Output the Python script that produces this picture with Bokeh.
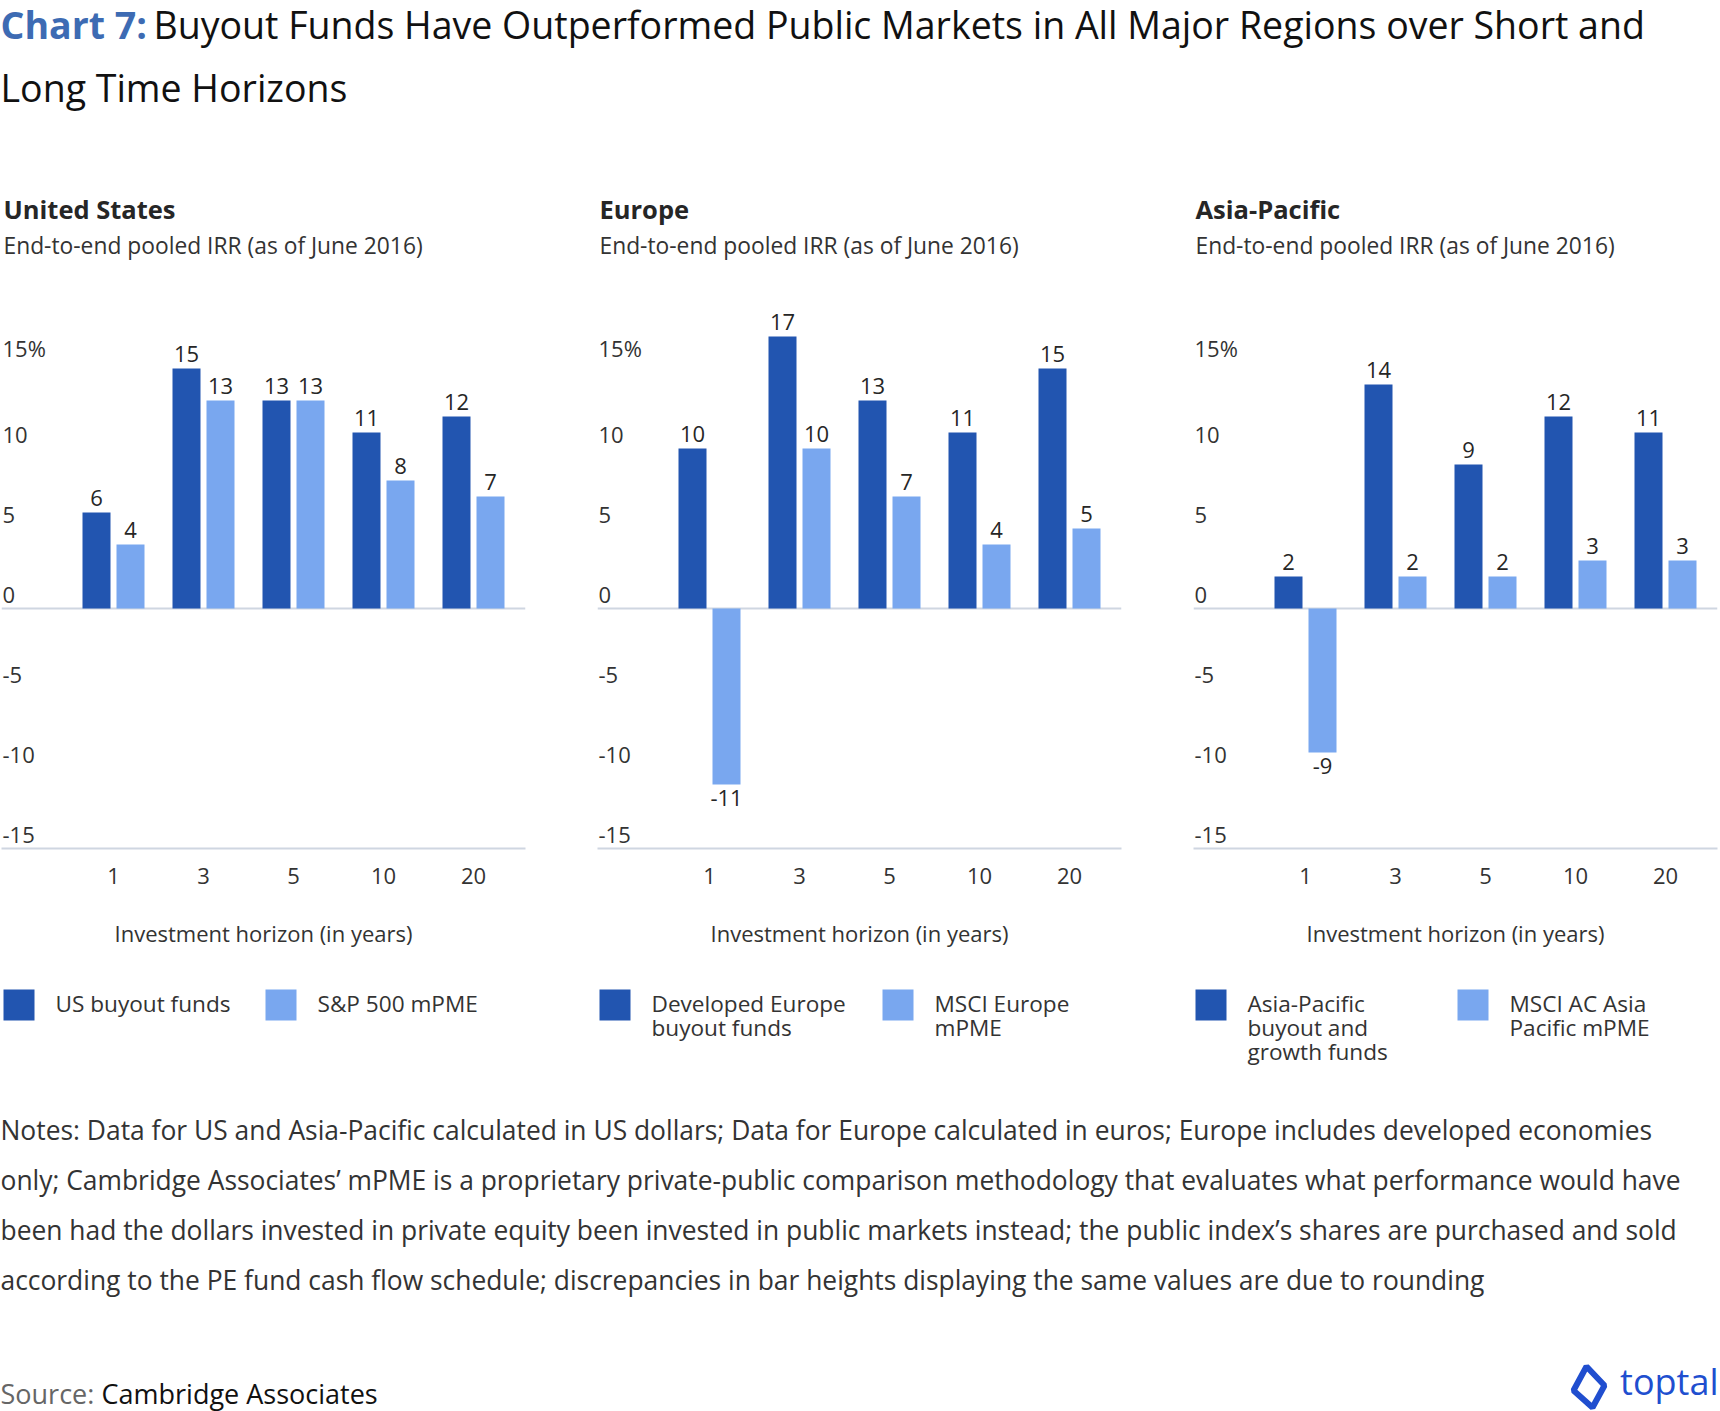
from bokeh.plotting import figure
from bokeh.layouts import column, row
from bokeh.models import Range1d, FixedTicker, Span, ColumnDataSource
from bokeh.core.properties import value
from bokeh.embed import file_html
from bokeh.resources import INLINE

FONT = "Open Sans"

# ---- data: end-to-end pooled IRR (%) by investment horizon ----
horizons = ["1", "3", "5", "10", "20"]
us_funds = [6, 15, 13, 11, 12]
us_pme = [4, 13, 13, 8, 7]
eu_funds = [10, 17, 13, 11, 15]
eu_pme = [-11, 10, 7, 4, 5]
ap_funds = [2, 14, 9, 12, 11]
ap_pme = [-9, 2, 2, 3, 3]

y_ticks = [15, 10, 5, 0, -5, -10, -15]
y_tick_labels = ["15%", "10", "5", "0", "-5", "-10", "-15"]

panel_titles = ["United States", "Europe", "Asia-Pacific"]
panel_subtitle = "End-to-end pooled IRR (as of June 2016)"
legend_labels = [
    (["US buyout funds"], ["S&P 500 mPME"]),
    (["Developed Europe", "buyout funds"], ["MSCI Europe", "mPME"]),
    (["Asia-Pacific", "buyout and", "growth funds"], ["MSCI AC Asia", "Pacific mPME"]),
]
notes_lines = [
    "Notes: Data for US and Asia-Pacific calculated in US dollars; Data for Europe calculated in euros; Europe includes developed economies",
    "only; Cambridge Associates\u2019 mPME is a proprietary private-public comparison methodology that evaluates what performance would have",
    "been had the dollars invested in private equity been invested in public markets instead; the public index\u2019s shares are purchased and sold",
    "according to the PE fund cash flow schedule; discrepancies in bar heights displaying the same values are due to rounding",
]

DARK = "#2255B0"
LIGHT = "#79A7EF"
RULE = "#CFD6E1"
INK = "#262626"
BODY = "#333333"

PANEL_X = [0, 596, 1192]
FRAME_W = 524
FRAME_H = 556
GROUP_PX = 90.0
FIRST_GROUP_PX = 112.0
BAR_W = 28.0 / GROUP_PX
DODGE = 17.0 / GROUP_PX


def blank(width, height, y_top, y_bottom):
    p = figure(width=width, height=height, x_range=Range1d(0, width),
               y_range=Range1d(y_bottom, y_top), toolbar_location=None,
               output_backend="svg", x_axis_location=None, y_axis_location=None,
               min_border=0, outline_line_color=None)
    p.grid.visible = False
    p.background_fill_color = "white"
    p.border_fill_color = "white"
    return p


def panel(funds, pme, right_border):
    x0 = -FIRST_GROUP_PX / GROUP_PX
    x1 = x0 + FRAME_W / GROUP_PX
    p = figure(frame_width=FRAME_W, frame_height=FRAME_H,
               x_range=Range1d(x0, x1), y_range=Range1d(-15, -15 + FRAME_H / 16.0),
               toolbar_location=None, output_backend="svg", y_axis_location=None,
               min_border_left=1, min_border_right=right_border,
               min_border_top=0, min_border_bottom=112,
               outline_line_color=None)
    p.grid.visible = False
    p.background_fill_color = "white"
    p.border_fill_color = "white"

    idx = list(range(len(horizons)))
    p.add_layout(Span(location=0, dimension="width", line_color=RULE,
                      line_width=2, level="underlay"))

    for vals, shift, color in ((funds, -DODGE, DARK), (pme, DODGE, LIGHT)):
        xs = [i + shift for i in idx]
        p.vbar(x=xs, top=vals, bottom=0, width=BAR_W, color=color, line_color=None)
        pos = ColumnDataSource(dict(x=[x for x, v in zip(xs, vals) if v >= 0],
                                    y=[v for v in vals if v >= 0],
                                    t=[str(v) for v in vals if v >= 0]))
        neg = ColumnDataSource(dict(x=[x for x, v in zip(xs, vals) if v < 0],
                                    y=[v for v in vals if v < 0],
                                    t=[str(v) for v in vals if v < 0]))
        p.text(x="x", y="y", text="t", source=pos, text_align="center",
               text_baseline="bottom", text_font=value(FONT),
               text_font_size="22px", text_color=INK, y_offset=-7)
        p.text(x="x", y="y", text="t", source=neg, text_align="center",
               text_baseline="top", text_font=value(FONT),
               text_font_size="22px", text_color=INK, y_offset=5)

    # value scale labels sit just above their levels
    p.text(x=[x0] * len(y_ticks), y=y_ticks, text=y_tick_labels,
           text_align="left", text_baseline="bottom", x_offset=1, y_offset=-6,
           text_font=value(FONT), text_font_size="22px", text_color=BODY)

    ax = p.xaxis[0]
    ax.ticker = FixedTicker(ticks=idx)
    ax.major_label_overrides = {i: h for i, h in enumerate(horizons)}
    ax.axis_line_color = RULE
    ax.axis_line_width = 2
    ax.major_tick_line_color = None
    ax.minor_tick_line_color = None
    ax.major_label_standoff = 13
    ax.major_label_text_font = FONT
    ax.major_label_text_font_size = "22px"
    ax.major_label_text_color = BODY
    ax.axis_label = "Investment horizon (in years)"
    ax.axis_label_standoff = 31
    ax.axis_label_text_font = FONT
    ax.axis_label_text_font_size = "22px"
    ax.axis_label_text_font_style = "normal"
    ax.axis_label_text_color = BODY
    return p


# ---- header: chart title and panel headings ----
head = blank(1720, 292, 0, 292)
head.text(x=[0], y=[24], text=["Chart 7:"], text_font=value(FONT),
          text_font_style="bold", text_font_size="37.5px", text_color="#3D6BB3",
          text_baseline="middle")
head.text(x=[153], y=[24],
          text=["Buyout Funds Have Outperformed Public Markets in All Major Regions over Short and"],
          text_font=value(FONT), text_font_size="37.5px", text_color="#111111",
          text_baseline="middle")
head.text(x=[0], y=[87], text=["Long Time Horizons"], text_font=value(FONT),
          text_font_size="37.5px", text_color="#111111", text_baseline="middle")
head.text(x=[px + 3 for px in PANEL_X], y=[208] * 3, text=panel_titles,
          text_font=value(FONT), text_font_style="bold", text_font_size="25.5px",
          text_color=INK, text_baseline="middle")
head.text(x=[px + 3 for px in PANEL_X], y=[245] * 3, text=[panel_subtitle] * 3,
          text_font=value(FONT), text_font_size="22.8px", text_color=BODY,
          text_baseline="middle")

# ---- three regional panels ----
us = panel(us_funds, us_pme, 71)
eu = panel(eu_funds, eu_pme, 71)
ap = panel(ap_funds, ap_pme, 3)

# ---- footer: legends, notes, source ----
foot = blank(1720, 451, 960, 1411)
key_dx = [0, 262]
for k, px in enumerate(PANEL_X):
    for j, color in enumerate((DARK, LIGHT)):
        left = px + 3 + key_dx[j] + (21 if (k == 1 and j == 1) else 0)
        foot.quad(left=[left], right=[left + 31], top=[989], bottom=[1020],
                  color=color, line_color=None)
        lines = legend_labels[k][j]
        foot.text(x=[left + 52] * len(lines), y=[1003 + 24 * n for n in range(len(lines))],
                  text=lines, text_font=value(FONT), text_font_size="22.6px",
                  text_color=BODY, text_baseline="middle")

foot.text(x=[0] * len(notes_lines), y=[1129 + 50 * n for n in range(len(notes_lines))],
          text=notes_lines, text_font=value(FONT), text_font_size="26.4px",
          text_color=BODY, text_baseline="middle")
foot.text(x=[0], y=[1393], text=["Source:"], text_font=value(FONT),
          text_font_size="27px", text_color="#666666", text_baseline="middle")
foot.text(x=[101], y=[1393], text=["Cambridge Associates"], text_font=value(FONT),
          text_font_size="27px", text_color="#111111", text_baseline="middle")

# brand mark
foot.patch(x=[1586, 1604, 1592, 1573], y=[1366, 1385, 1407, 1390],
           fill_color=None, line_color="#204ECF", line_width=6)
foot.text(x=[1718], y=[1381], text=["toptal"], text_font=value(FONT),
          text_font_size="36px", text_color="#204ECF", text_baseline="middle",
          text_align="right")

layout = column(head, row(us, eu, ap), foot)
open("out.html", "w").write(file_html(layout, INLINE))
